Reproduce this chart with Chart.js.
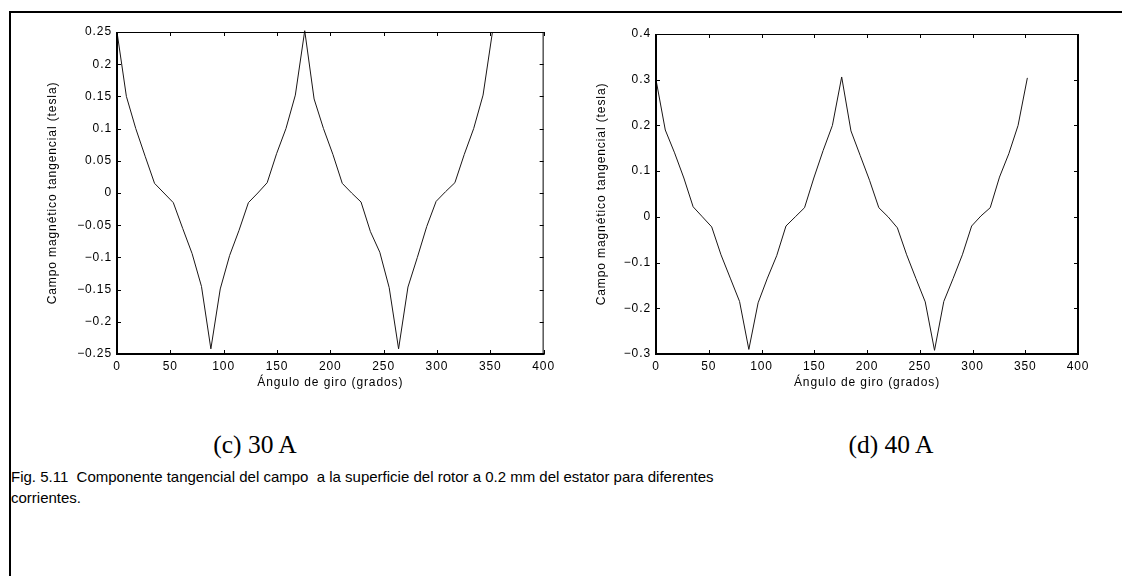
<!DOCTYPE html>
<html>
<head>
<meta charset="utf-8">
<script src="https://cdn.jsdelivr.net/npm/chart.js@4.4.1/dist/chart.umd.min.js"></script>
<style>
html,body{margin:0;padding:0;background:#fff;width:1122px;height:576px;overflow:hidden;position:relative;}
#frame{position:absolute;left:9px;top:11px;width:1200px;height:700px;border-top:2px solid #000;border-left:2px solid #000;}
canvas{position:absolute;top:0;}
#c1{left:0;}
#c2{left:540px;}
.sub{position:absolute;top:432px;font-family:"Liberation Serif","Times New Roman",serif;font-size:25.5px;line-height:1;color:#000;white-space:pre;transform:translateX(-50%);}
#cap{position:absolute;left:11px;top:466px;font-family:"Liberation Sans",Arial,sans-serif;font-size:15px;line-height:21px;white-space:pre;color:#000;}
</style>
</head>
<body>
<div id="frame"></div>
<canvas id="c1" width="560" height="400"></canvas>
<canvas id="c2" width="560" height="400"></canvas>
<div class="sub" style="left:255px;">(c) 30 A</div>
<div class="sub" style="left:891px;">(d) 40 A</div>
<div id="cap">Fig. 5.11  Componente tangencial del campo  a la superficie del rotor a 0.2 mm del estator para diferentes
corrientes.</div>
<script>
// ---- data ----
const angles = [0, 8.8, 17.6, 26.4, 35.2, 44, 52.8, 61.6, 70.4, 79.2, 88, 96.8, 105.6, 114.4, 123.2, 132, 140.8, 149.6, 158.4, 167.2, 176, 184.8, 193.6, 202.4, 211.2, 220, 228.8, 237.6, 246.4, 255.2, 264, 272.8, 281.6, 290.4, 299.2, 308, 316.8, 325.6, 334.4, 343.2, 352];
const field30A = [0.25, 0.15, 0.10, 0.057, 0.015, 0.0, -0.015, -0.055, -0.094, -0.145, -0.242, -0.149, -0.097, -0.058, -0.015, 0.0, 0.016, 0.061, 0.10, 0.152, 0.252, 0.146, 0.10, 0.06, 0.015, 0.0, -0.014, -0.06, -0.092, -0.147, -0.242, -0.146, -0.10, -0.052, -0.013, 0.002, 0.016, 0.06, 0.10, 0.152, 0.25];
const field40A = [0.30, 0.19, 0.14, 0.085, 0.022, 0.0, -0.022, -0.083, -0.134, -0.185, -0.29, -0.188, -0.134, -0.085, -0.02, 0.0, 0.02, 0.085, 0.145, 0.20, 0.306, 0.188, 0.134, 0.08, 0.02, 0.0, -0.024, -0.083, -0.135, -0.186, -0.292, -0.185, -0.135, -0.083, -0.02, 0.002, 0.02, 0.087, 0.138, 0.20, 0.304];
const xTicks = [0, 50, 100, 150, 200, 250, 300, 350, 400];
const xTickLabels = ['0', '50', '100', '150', '200', '250', '300', '350', '400'];
const yTicks30 = [-0.25, -0.2, -0.15, -0.1, -0.05, 0, 0.05, 0.1, 0.15, 0.2, 0.25];
const yTickLabels30 = ['\u22120.25', '\u22120.2', '\u22120.15', '\u22120.1', '\u22120.05', '0', '0.05', '0.1', '0.15', '0.2', '0.25'];
const yTicks40 = [-0.3, -0.2, -0.1, 0, 0.1, 0.2, 0.3, 0.4];
const yTickLabels40 = ['\u22120.3', '\u22120.2', '\u22120.1', '0', '0.1', '0.2', '0.3', '0.4'];
const yTitle = 'Campo magnético tangencial (tesla)';
const xTitle = 'Ángulo de giro (grados)';

const FONT = {family: '"Liberation Sans", Arial, sans-serif', size: 12};
const SPACING = '0.9px';

const boxPlugin = {
  id: 'matlabBox',
  beforeLayout(chart) { chart.ctx.letterSpacing = SPACING; },
  beforeDraw(chart) { chart.ctx.letterSpacing = SPACING; },
  afterDraw(chart) {
    const {ctx, chartArea: a, scales: {x, y}} = chart;
    const o = chart.options.plugins.matlabBox || {};
    ctx.save();
    ctx.strokeStyle = '#000';
    ctx.lineWidth = 1;
    ctx.beginPath();
    x.ticks.forEach(t => {
      const px = Math.round(x.getPixelForValue(t.value)) + 0.5;
      ctx.moveTo(px, a.bottom); ctx.lineTo(px, a.bottom - 4);
      ctx.moveTo(px, a.top); ctx.lineTo(px, a.top + 4);
    });
    y.ticks.forEach(t => {
      const py = Math.round(y.getPixelForValue(t.value)) + 0.5;
      ctx.moveTo(a.left, py); ctx.lineTo(a.left + 4, py);
      ctx.moveTo(a.right, py); ctx.lineTo(a.right - 4, py);
    });
    ctx.stroke();
    ctx.lineWidth = 1;
    ctx.beginPath();
    ctx.moveTo(a.left, a.top + 0.5); ctx.lineTo(a.right, a.top + 0.5);
    ctx.stroke();
    ctx.lineWidth = o.rightWidth || 1;
    const rx = o.rightWidth === 2 ? a.right : a.right - 0.5;
    ctx.beginPath();
    ctx.moveTo(rx, a.top); ctx.lineTo(rx, a.bottom);
    ctx.stroke();
    ctx.lineWidth = 2;
    ctx.beginPath();
    ctx.moveTo(a.left, a.top); ctx.lineTo(a.left, a.bottom);
    ctx.moveTo(a.left - 1, a.bottom); ctx.lineTo(a.right + 1, a.bottom);
    ctx.stroke();
    ctx.restore();
  }
};

function makeChart(id, vals, yTicks, yLabels, cfg) {
  const pts = angles.map((a, i) => ({x: a, y: vals[i]}));
  return new Chart(document.getElementById(id), {
    type: 'line',
    data: {datasets: [{data: pts, borderColor: '#1a1616', borderWidth: 1, pointRadius: 0, tension: 0, fill: false, clip: 4}]},
    options: {
      responsive: false, animation: false, devicePixelRatio: 1,
      layout: {padding: {left: 0, top: cfg.top, right: cfg.right, bottom: 6}},
      plugins: {legend: {display: false}, tooltip: {enabled: false}, matlabBox: {rightWidth: cfg.rightWidth}},
      scales: {
        x: {
          type: 'linear', min: 0, max: 400,
          grid: {display: false, drawTicks: false}, border: {display: false},
          afterBuildTicks: s => { s.ticks = xTicks.map(v => ({value: v})); },
          afterFit: s => { s.height = 40; },
          ticks: {autoSkip: false, maxRotation: 0, padding: 5, color: '#000', font: FONT,
                  callback: (v, i) => xTickLabels[i]},
          title: {display: true, text: xTitle, color: '#000', font: FONT, padding: {top: 0, bottom: 4}}
        },
        y: {
          type: 'linear', min: yTicks[0], max: yTicks[yTicks.length - 1],
          grid: {display: false, drawTicks: false}, border: {display: false},
          afterBuildTicks: s => { s.ticks = yTicks.map(v => ({value: v})); },
          afterFit: s => { s.width = cfg.yWidth; },
          ticks: {autoSkip: false, padding: 5, color: '#000', font: FONT,
                  callback: (v, i) => yLabels[i]},
          title: {display: true, text: yTitle, color: '#000', font: FONT, padding: {top: cfg.titlePad, bottom: 0}}
        }
      }
    },
    plugins: [boxPlugin]
  });
}

makeChart('c1', field30A, yTicks30, yTickLabels30, {top: 32, right: 13, yWidth: 117, titlePad: 45.5, rightWidth: 1});
makeChart('c2', field40A, yTicks40, yTickLabels40, {top: 34, right: 22, yWidth: 116, titlePad: 54.5, rightWidth: 2});
</script>
</body>
</html>
